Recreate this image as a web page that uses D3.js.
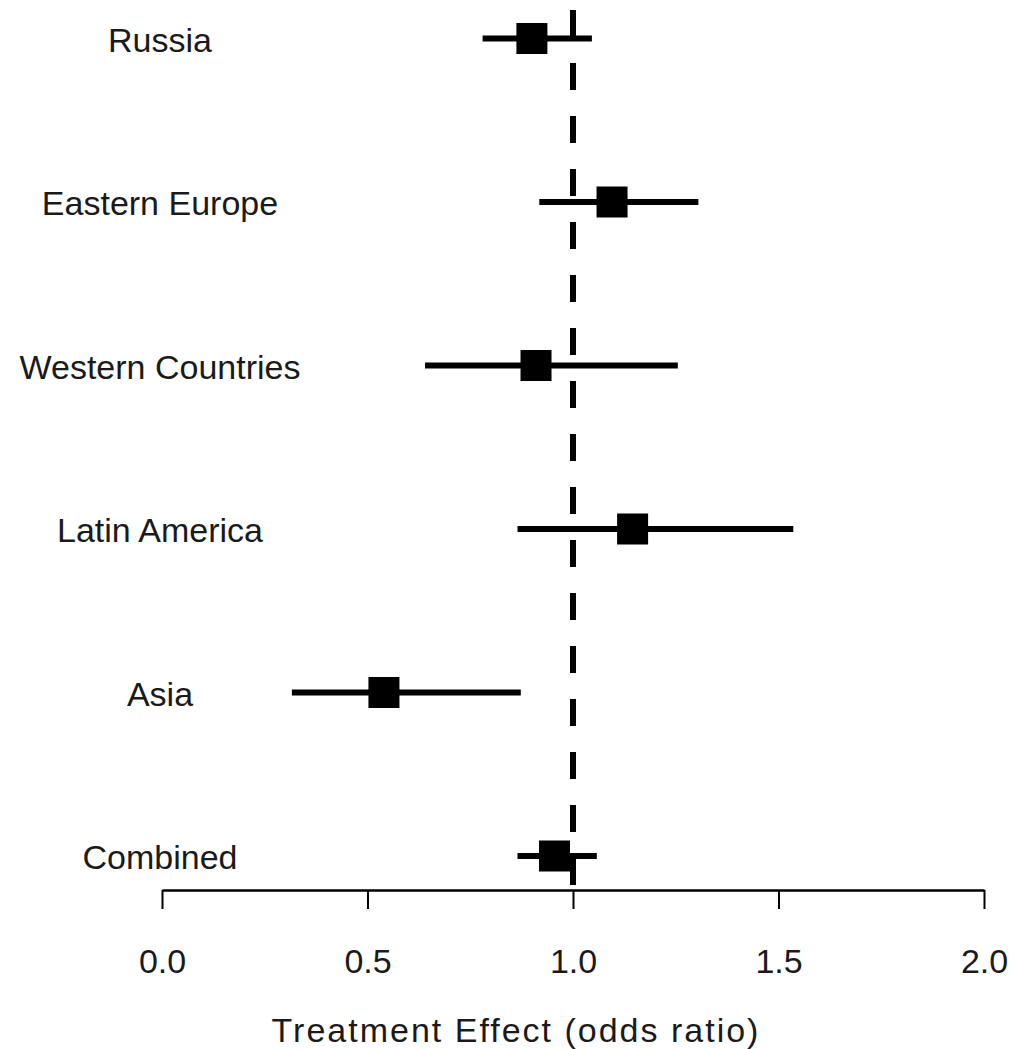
<!DOCTYPE html>
<html>
<head>
<meta charset="utf-8">
<script src="https://cdn.jsdelivr.net/npm/d3@7/dist/d3.min.js"></script>
<style>
  html, body { margin: 0; padding: 0; background: #fff; }
  svg { display: block; }
  text { font-family: "Liberation Sans", Arial, sans-serif; fill: #1a1a1a; }
</style>
</head>
<body>
<svg id="chart" width="1017" height="1049"></svg>
<script>
// Forest plot: treatment effect (odds ratio) by region with 95% intervals
const regions  = ["Russia", "Eastern Europe", "Western Countries", "Latin America", "Asia", "Combined"];
const oddsRatio = [0.90, 1.095, 0.91, 1.145, 0.54, 0.955];
const lowerCI   = [0.78, 0.918, 0.64, 0.865, 0.316, 0.865];
const upperCI   = [1.046, 1.305, 1.255, 1.536, 0.873, 1.058];
const xTicks    = [0.0, 0.5, 1.0, 1.5, 2.0];
const refValue  = 1.0;
const axisTitle = "Treatment Effect (odds ratio)";

const svg = d3.select("#chart");

const x = d3.scaleLinear().domain([0, 2]).range([162, 984]);
const y = d3.scalePoint().domain(regions).range([38.5, 856]);

const axisY = 890;
const boxSize = 31;
const fontSize = 34;

// reference line at OR = 1
svg.append("line")
  .attr("x1", x(refValue)).attr("x2", x(refValue))
  .attr("y1", 10).attr("y2", 887)
  .attr("stroke", "#000")
  .attr("stroke-width", 6)
  .attr("stroke-dasharray", "27,26");

const rows = regions.map((r, i) => ({ region: r, or: oddsRatio[i], lo: lowerCI[i], hi: upperCI[i] }));

// confidence interval segments
svg.selectAll("line.ci").data(rows).enter().append("line")
  .attr("class", "ci")
  .attr("x1", d => x(d.lo)).attr("x2", d => x(d.hi))
  .attr("y1", d => y(d.region)).attr("y2", d => y(d.region))
  .attr("stroke", "#000")
  .attr("stroke-width", 6);

// point estimates
svg.selectAll("rect.est").data(rows).enter().append("rect")
  .attr("class", "est")
  .attr("x", d => x(d.or) - boxSize / 2)
  .attr("y", d => y(d.region) - boxSize / 2)
  .attr("width", boxSize).attr("height", boxSize)
  .attr("fill", "#000");

// region labels
svg.selectAll("text.lab").data(rows).enter().append("text")
  .attr("class", "lab")
  .attr("x", 160)
  .attr("y", d => y(d.region) + 13)
  .attr("text-anchor", "middle")
  .attr("font-size", fontSize)
  .text(d => d.region);

// x axis
const axis = d3.axisBottom(x)
  .tickValues(xTicks)
  .tickFormat(d3.format(".1f"))
  .tickSizeInner(19)
  .tickSizeOuter(0)
  .tickPadding(40);

const gAxis = svg.append("g")
  .attr("transform", `translate(0,${axisY})`)
  .call(axis);
gAxis.select(".domain").attr("stroke", "#000").attr("stroke-width", 2.5);
gAxis.selectAll(".tick line").attr("stroke", "#000").attr("stroke-width", 2);
gAxis.selectAll(".tick text")
  .attr("font-size", fontSize)
  .attr("font-family", "Liberation Sans, Arial, sans-serif")
  .attr("fill", "#1a1a1a");

// axis title
svg.append("text")
  .attr("x", 516)
  .attr("y", 1042)
  .attr("text-anchor", "middle")
  .attr("font-size", fontSize)
  .attr("letter-spacing", 2)
  .text(axisTitle);
</script>
</body>
</html>
